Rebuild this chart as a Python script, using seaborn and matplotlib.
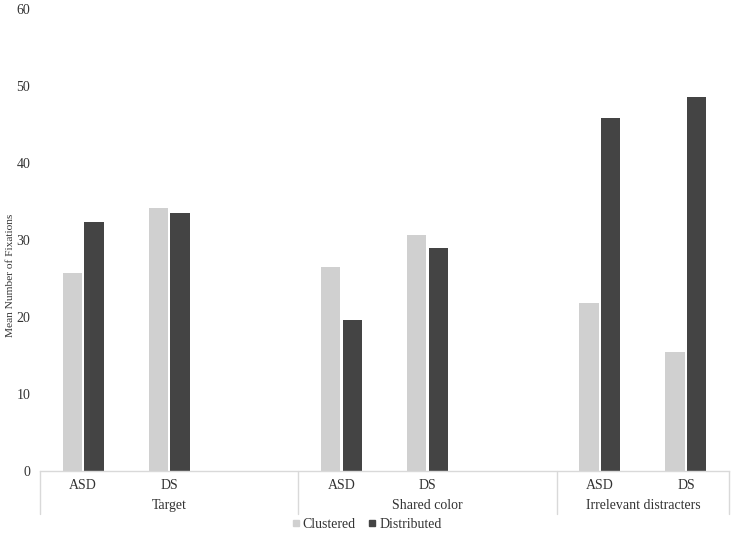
import matplotlib

matplotlib.use("Agg")

import matplotlib.pyplot as plt
import matplotlib.transforms as mtransforms
from matplotlib.lines import Line2D
import pandas as pd
import seaborn as sns

# Values
GROUPS = ["Target", "Shared color", "Irrelevant distracters"]
SUBJECTS = ["ASD", "DS"]
CLUSTERED = [25.7, 34.2, 26.5, 30.6, 21.8, 15.5]
DISTRIBUTED = [32.3, 33.5, 19.6, 29.0, 45.8, 48.6]
CONDITIONS = ["Clustered", "Distributed"]
COLORS = ["#d0d0d0", "#444444"]
Y_TICKS = [0, 10, 20, 30, 40, 50, 60]

FONT_SIZE = 10
TEXT_COLOR = "#333333"
LINE_COLOR = "#d9d9d9"

sns.set_theme(style="white")
plt.rcParams["font.family"] = ["Liberation Serif", "DejaVu Serif"]


def build_frame():
    """Long-form table: one row per bar."""
    rows = []
    i = 0
    for g in GROUPS:
        for s in SUBJECTS:
            rows.append({"slot": f"{g}|{s}", "condition": "Clustered", "value": CLUSTERED[i]})
            rows.append({"slot": f"{g}|{s}", "condition": "Distributed", "value": DISTRIBUTED[i]})
            i += 1
    return pd.DataFrame(rows)


def slot_order():
    """Each group gets an empty third slot, except the last one."""
    order = []
    for gi, g in enumerate(GROUPS):
        order += [f"{g}|{s}" for s in SUBJECTS]
        if gi < len(GROUPS) - 1:
            order.append(f"{g}|")
    return order


df = build_frame()
order = slot_order()

fig = plt.figure(figsize=(7.33, 5.38), dpi=100)
ax = fig.add_axes([40 / 733, 1 - 471 / 538, 689 / 733, 462 / 538])

sns.barplot(
    data=df,
    x="slot",
    y="value",
    hue="condition",
    order=order,
    hue_order=CONDITIONS,
    palette=COLORS,
    width=0.5,
    gap=0.1,
    linewidth=0,
    errorbar=None,
    saturation=1,
    legend=False,
    ax=ax,
)

ax.set_xlim(-0.5, len(order) - 0.5)
ax.set_ylim(0, 60)
ax.set_yticks(Y_TICKS)
ax.tick_params(axis="y", length=0, pad=7, labelsize=FONT_SIZE, labelcolor=TEXT_COLOR)

# subject labels as x ticks
tick_pos = [i for i, o in enumerate(order) if not o.endswith("|")]
ax.set_xticks(tick_pos)
ax.set_xticklabels([order[i].split("|")[1] for i in tick_pos])
ax.tick_params(axis="x", length=0, pad=6, labelsize=FONT_SIZE, labelcolor=TEXT_COLOR)
ax.set_xlabel("")

ax.set_ylabel("Mean Number of Fixations", fontsize=8.2, color=TEXT_COLOR)
ax.yaxis.set_label_coords(-0.036, 0.424)

for side in ["left", "top", "right"]:
    ax.spines[side].set_visible(False)
ax.spines["bottom"].set_color(LINE_COLOR)
ax.spines["bottom"].set_linewidth(1.0)

# group labels and separators below the axis
trans = mtransforms.blended_transform_factory(ax.transData, ax.transAxes)
start = -0.5
for gi, g in enumerate(GROUPS):
    n = len(SUBJECTS) + (1 if gi < len(GROUPS) - 1 else 0)
    end = start + n
    ax.text((start + end) / 2, -0.074, g, transform=trans, ha="center", va="center",
            fontsize=FONT_SIZE, color=TEXT_COLOR)
    ax.add_line(Line2D([start, start], [0, -0.092], transform=trans, color=LINE_COLOR,
                       lw=1.0, clip_on=False))
    start = end
ax.add_line(Line2D([start, start], [0, -0.092], transform=trans, color=LINE_COLOR,
                   lw=1.0, clip_on=False))

handles = [
    Line2D([], [], marker="s", linestyle="none", markersize=4.5,
           markerfacecolor=c, markeredgecolor=c)
    for c in COLORS
]
fig.legend(handles, CONDITIONS, loc="center", bbox_to_anchor=(0.5, 0.026), ncol=2,
           frameon=False, fontsize=FONT_SIZE, handlelength=0.6, handletextpad=0.2,
           columnspacing=0.9, labelcolor=TEXT_COLOR)

fig.savefig("out.png", dpi=100)
